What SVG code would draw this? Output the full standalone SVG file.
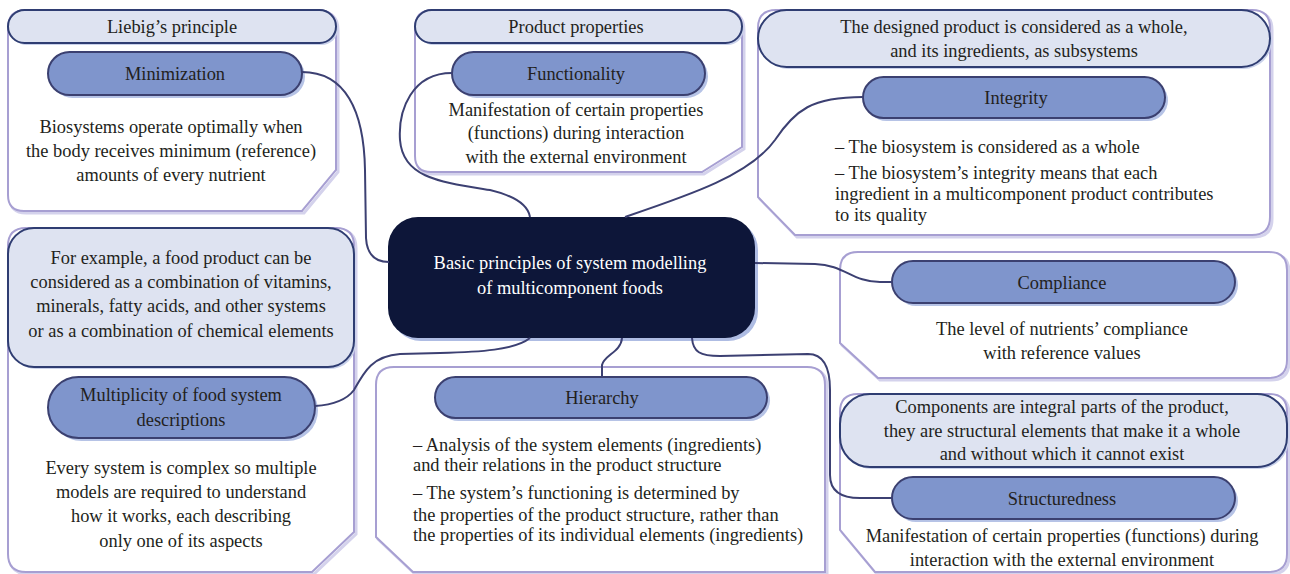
<svg xmlns="http://www.w3.org/2000/svg" width="1290" height="574" viewBox="0 0 1290 574">
<style>
.box{fill:#ffffff;stroke:#a79fd2;stroke-width:2}
.boxsh{fill:none;stroke:#d4d2ec;stroke-width:3}
.hdr{fill:#dee3f1;stroke:#2f3d72;stroke-width:2}
.hdrsh{fill:#c9d1ea}
.pill{fill:#7f95cc;stroke:#3b4070;stroke-width:2}
.pillsh{fill:#b6c3e6}
.core{fill:#0d1639}
.coresh{fill:#aebce3}
.conn{fill:none;stroke:#3c4072;stroke-width:2}
.t{font-family:'Liberation Serif','Times New Roman',serif;font-size:18.4px;fill:#231f20}
.c{text-anchor:middle}
.w{fill:#ffffff}
</style>
<rect width="1290" height="574" fill="#ffffff"/>
<g id="liebig">
<path class="boxsh" d="M28,12 H320 Q338,12 338,30 V172 L304,213 H26 Q10,213 10,197 V30"/>
<path class="box" d="M26,10 H318 Q336,10 336,28 V170 L302,211 H24 Q8,211 8,195 V28 Q8,10 26,10 Z"/>
<rect class="hdrsh" x="10" y="12" width="328" height="33" rx="16.5"/>
<rect class="hdr" x="8" y="10" width="328" height="33" rx="16.5"/>
<text class="t c" x="172" y="33">Liebig’s principle</text>
<rect class="pillsh" x="51" y="55" width="254" height="43" rx="21.5"/>
<rect class="pill" x="48" y="52" width="254" height="43" rx="21.5"/>
<text class="t c" x="175" y="80">Minimization</text>
<text class="t c" x="171" y="133">Biosystems operate optimally when</text>
<text class="t c" x="171" y="157">the body receives minimum (reference)</text>
<text class="t c" x="171" y="181">amounts of every nutrient</text>
</g>

<g id="product">
<path class="boxsh" d="M435,12 H726 Q744,12 744,30 V149 L704,174 H433 Q417,174 417,158 V30"/>
<path class="box" d="M433,10 H724 Q742,10 742,28 V147 L702,172 H431 Q415,172 415,156 V28 Q415,10 433,10 Z"/>
<rect class="hdrsh" x="417" y="12" width="327" height="33" rx="16.5"/>
<rect class="hdr" x="415" y="10" width="327" height="33" rx="16.5"/>
<text class="t c" x="576" y="33">Product properties</text>
<rect class="pillsh" x="455" y="55" width="253" height="43" rx="21.5"/>
<rect class="pill" x="452" y="52" width="253" height="43" rx="21.5"/>
<text class="t c" x="576" y="80">Functionality</text>
<text class="t c" x="576" y="116">Manifestation of certain properties</text>
<text class="t c" x="576" y="139">(functions) during interaction</text>
<text class="t c" x="576" y="163">with the external environment</text>
</g>

<g id="integrity">
<path class="boxsh" d="M778,12 H1254 Q1272,12 1272,30 V219 Q1272,237 1254,237 H797 L760,199 V30"/>
<path class="box" d="M776,10 H1252 Q1270,10 1270,28 V217 Q1270,235 1252,235 H795 L758,197 V28 Q758,10 776,10 Z"/>
<rect class="hdrsh" x="760" y="12" width="512" height="57" rx="28.5"/>
<rect class="hdr" x="758" y="10" width="512" height="57" rx="28.5"/>
<text class="t c" x="1014" y="33">The designed product is considered as a whole,</text>
<text class="t c" x="1014" y="57">and its ingredients, as subsystems</text>
<rect class="pillsh" x="866" y="80" width="302" height="41" rx="20.5"/>
<rect class="pill" x="863" y="77" width="302" height="41" rx="20.5"/>
<text class="t c" x="1016" y="104">Integrity</text>
<text class="t" x="835" y="153">– The biosystem is considered as a whole</text>
<text class="t" x="835" y="179">– The biosystem’s integrity means that each</text>
<text class="t" x="835" y="200">ingredient in a multicomponent product contributes</text>
<text class="t" x="835" y="221">to its quality</text>
</g>

<g id="core">
<rect class="coresh" x="391" y="220" width="367" height="121" rx="30"/>
<rect class="core" x="388" y="217" width="367" height="121" rx="30"/>
<text class="t c w" x="570" y="269">Basic principles of system modelling</text>
<text class="t c w" x="570" y="294">of multicomponent foods</text>
</g>

<g id="multiplicity">
<path class="boxsh" d="M36,230 H338 Q356,230 356,248 V534 L314,574 H28 Q10,574 10,556 V248"/>
<path class="box" d="M34,228 H336 Q354,228 354,246 V532 L312,572 H26 Q8,572 8,554 V246 Q8,228 26,228 Z"/>
<rect class="hdrsh" x="10" y="230" width="346" height="139" rx="26"/>
<rect class="hdr" x="8" y="228" width="346" height="139" rx="26"/>
<text class="t c" x="181" y="264">For example, a food product can be</text>
<text class="t c" x="181" y="288">considered as a combination of vitamins,</text>
<text class="t c" x="181" y="312">minerals, fatty acids, and other systems</text>
<text class="t c" x="181" y="337">or as a combination of chemical elements</text>
<rect class="pillsh" x="51" y="380" width="267" height="61" rx="30.5"/>
<rect class="pill" x="48" y="377" width="267" height="61" rx="30.5"/>
<text class="t c" x="181" y="401">Multiplicity of food system</text>
<text class="t c" x="181" y="426">descriptions</text>
<text class="t c" x="181" y="474">Every system is complex so multiple</text>
<text class="t c" x="181" y="498">models are required to understand</text>
<text class="t c" x="181" y="522">how it works, each describing</text>
<text class="t c" x="181" y="547">only one of its aspects</text>
</g>

<g id="hierarchy">
<path class="boxsh" d="M396,369 H809 Q827,369 827,387 V574 H415 L378,539 V387"/>
<path class="box" d="M394,367 H807 Q825,367 825,385 V572 H413 L376,537 V385 Q376,367 394,367 Z"/>
<rect class="pillsh" x="438" y="380" width="332" height="41" rx="20.5"/>
<rect class="pill" x="435" y="377" width="332" height="41" rx="20.5"/>
<text class="t c" x="602" y="404">Hierarchy</text>
<text class="t" x="413" y="451">– Analysis of the system elements (ingredients)</text>
<text class="t" x="413" y="471">and their relations in the product structure</text>
<text class="t" x="413" y="499">– The system’s functioning is determined by</text>
<text class="t" x="413" y="521">the properties of the product structure, rather than</text>
<text class="t" x="413" y="541">the properties of its individual elements (ingredients)</text>
</g>

<g id="compliance">
<path class="boxsh" d="M860,254 H1271 Q1289,254 1289,272 V362 Q1289,380 1271,380 H880 L842,345 V272"/>
<path class="box" d="M858,252 H1269 Q1287,252 1287,270 V360 Q1287,378 1269,378 H878 L840,343 V270 Q840,252 858,252 Z"/>
<rect class="pillsh" x="895" y="264" width="343" height="42" rx="21"/>
<rect class="pill" x="892" y="261" width="343" height="42" rx="21"/>
<text class="t c" x="1062" y="289">Compliance</text>
<text class="t c" x="1062" y="335">The level of nutrients’ compliance</text>
<text class="t c" x="1062" y="359">with reference values</text>
</g>

<g id="structuredness">
<path class="boxsh" d="M860,396 H1271 Q1289,396 1289,414 V556 Q1289,574 1271,574 H877 L842,532 V414"/>
<path class="box" d="M858,394 H1269 Q1287,394 1287,412 V554 Q1287,572 1269,572 H875 L840,530 V412 Q840,394 858,394 Z"/>
<rect class="hdrsh" x="842" y="396" width="447" height="73" rx="30"/>
<rect class="hdr" x="840" y="394" width="447" height="73" rx="30"/>
<text class="t c" x="1062" y="413">Components are integral parts of the product,</text>
<text class="t c" x="1062" y="437">they are structural elements that make it a whole</text>
<text class="t c" x="1062" y="460">and without which it cannot exist</text>
<rect class="pillsh" x="895" y="480" width="343" height="42" rx="21"/>
<rect class="pill" x="892" y="477" width="343" height="42" rx="21"/>
<text class="t c" x="1062" y="505">Structuredness</text>
<text class="t c" x="1062" y="542">Manifestation of certain properties (functions) during</text>
<text class="t c" x="1062" y="566">interaction with the external environment</text>
</g>

<g id="connectors">
<path class="conn" d="M302,72 C345,72 364,110 365,170 L366,238 C367,255 376,262 389,262"/>
<path class="conn" d="M452,73 C412,73 398,110 400,140 C403,178 440,182 490,190 C515,196 528,205 530,217"/>
<path class="conn" d="M625,217 C690,195 750,175 775,140 C795,110 812,97 863,97"/>
<path class="conn" d="M755,263 L815,264 C845,265 852,282 880,282 L892,282"/>
<path class="conn" d="M530,338 C515,350 480,352 440,353 L400,354 C372,356 364,372 354,390 C345,402 330,405 315,406"/>
<path class="conn" d="M622,338 C621,352 604,355 602,365 L602,377"/>
<path class="conn" d="M692,338 C693,352 700,356 720,356 L808,354 C824,354 830,368 830,390 L830,475 C830,490 840,498 860,498 L892,498"/>
</g>
</svg>
